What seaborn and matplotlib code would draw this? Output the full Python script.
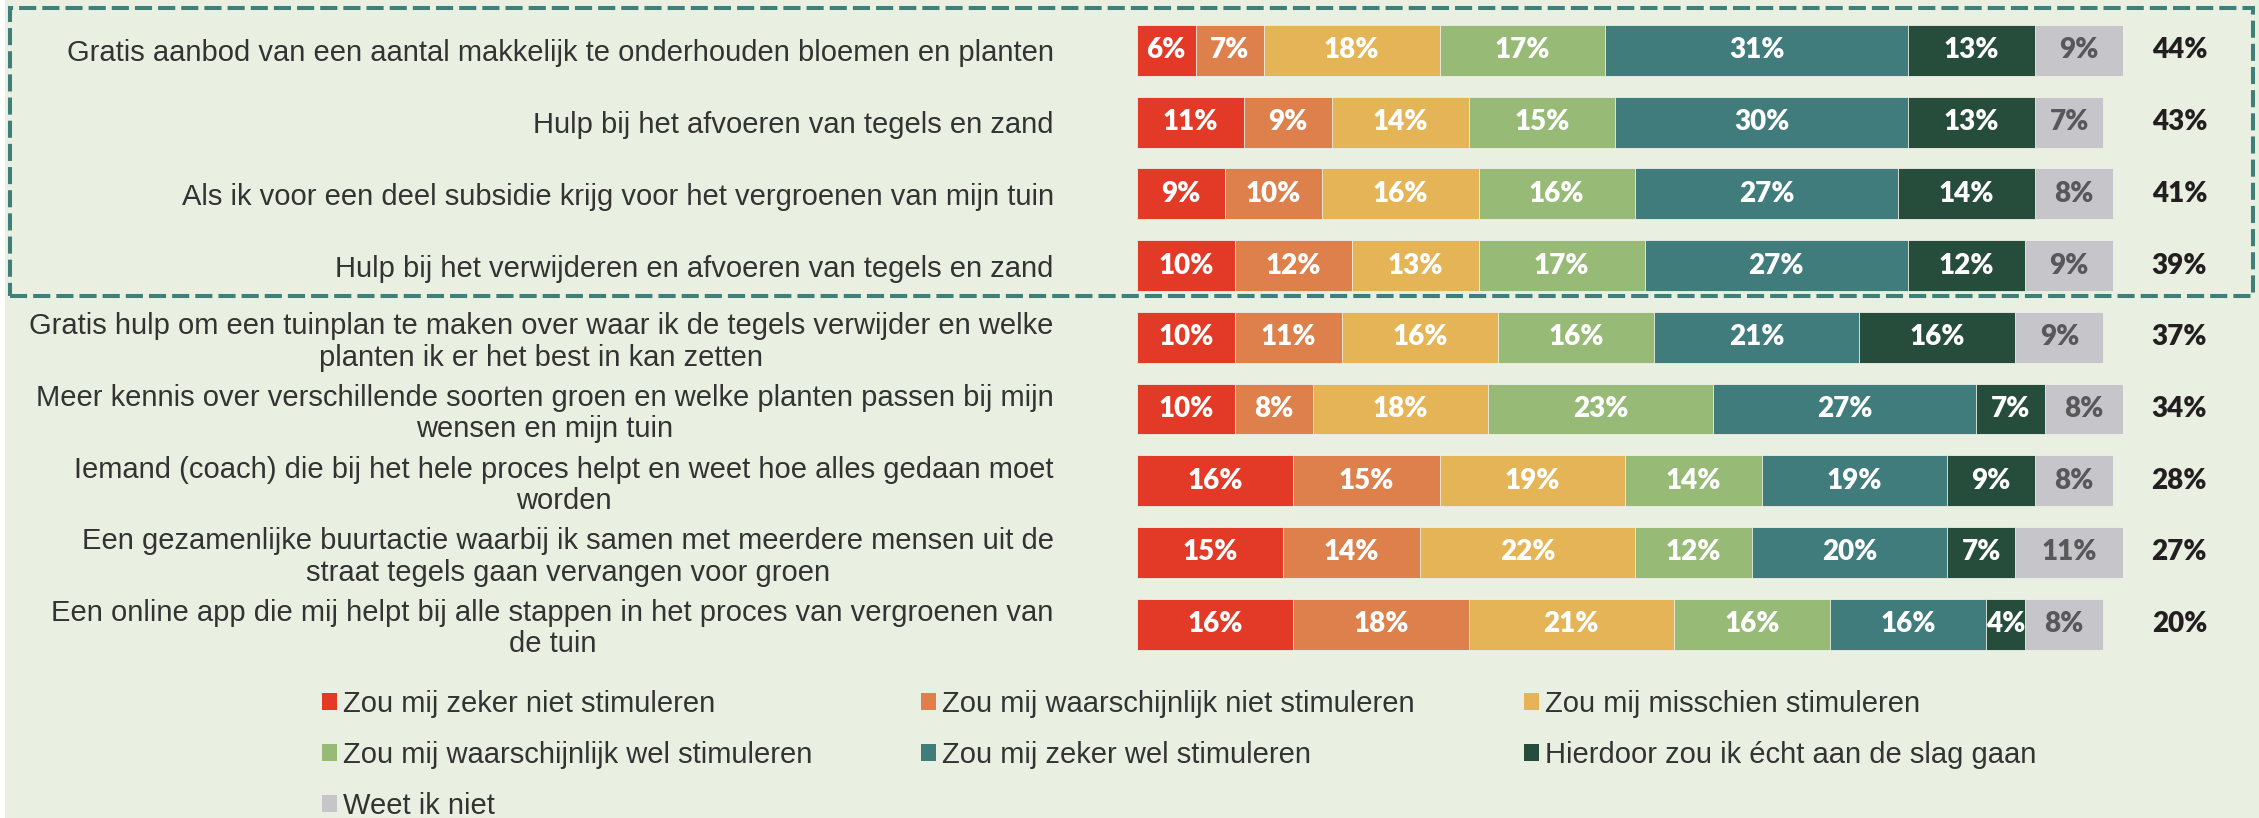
import numpy as np
import pandas as pd
import matplotlib
matplotlib.use("Agg")
import matplotlib.pyplot as plt
import seaborn as sns
from matplotlib.patches import Rectangle, Patch

# ---- data -------------------------------------------------------------
items = [
    "Gratis aanbod van een aantal makkelijk te onderhouden bloemen en planten",
    "Hulp bij het afvoeren van tegels en zand",
    "Als ik voor een deel subsidie krijg voor het vergroenen van mijn tuin",
    "Hulp bij het verwijderen en afvoeren van tegels en zand",
    "Gratis hulp om een tuinplan te maken over waar ik de tegels verwijder en welke\nplanten ik er het best in kan zetten",
    "Meer kennis over verschillende soorten groen en welke planten passen bij mijn\nwensen en mijn tuin",
    "Iemand (coach) die bij het hele proces helpt en weet hoe alles gedaan moet\nworden",
    "Een gezamenlijke buurtactie waarbij ik samen met meerdere mensen uit de\nstraat tegels gaan vervangen voor groen",
    "Een online app die mij helpt bij alle stappen in het proces van vergroenen van\nde tuin",
]

zeker_niet          = [6, 11, 9, 10, 10, 10, 16, 15, 16]
waarschijnlijk_niet = [7, 9, 10, 12, 11, 8, 15, 14, 18]
misschien           = [18, 14, 16, 13, 16, 18, 19, 22, 21]
waarschijnlijk_wel  = [17, 15, 16, 17, 16, 23, 14, 12, 16]
zeker_wel           = [31, 30, 27, 27, 21, 27, 19, 20, 16]
echt_aan_de_slag    = [13, 13, 14, 12, 16, 7, 9, 7, 4]
weet_niet           = [9, 7, 8, 9, 9, 8, 8, 11, 8]

categories = [
    "Zou mij zeker niet stimuleren",
    "Zou mij waarschijnlijk niet stimuleren",
    "Zou mij misschien stimuleren",
    "Zou mij waarschijnlijk wel stimuleren",
    "Zou mij zeker wel stimuleren",
    "Hierdoor zou ik écht aan de slag gaan",
    "Weet ik niet",
]

colors = ["#e33a27", "#dd804c", "#e5b457", "#97bb77", "#3f7c7b", "#264d3b", "#c6c5ca"]
label_colors = ["white"] * 6 + ["#58585a"]

series = [zeker_niet, waarschijnlijk_niet, misschien, waarschijnlijk_wel,
          zeker_wel, echt_aan_de_slag, weet_niet]
df = pd.DataFrame(dict(zip(categories, series)), index=items)
cum = df.cumsum(axis=1)
# share of respondents that would definitely get started (top two boxes)
totals = df[categories[4]] + df[categories[5]]

# ---- figure -------------------------------------------------------------
W, H = 2259, 818
BG = "#e9efe1"
TXT = "#333333"

sns.set_style("white")
plt.rcParams["font.family"] = ["Liberation Sans", "DejaVu Sans"]

fig = plt.figure(figsize=(W / 100, H / 100), dpi=100, facecolor=BG)

x0, px_per_pct = 1137, 9.76
row_top, row_bot = 14.6, 660.0
ax = fig.add_axes([x0 / W, 1 - row_bot / H, px_per_pct * 101 / W, (row_bot - row_top) / H])
ax.set_facecolor(BG)

# stacked bars: draw cumulative layers from the outermost inwards
for i in reversed(range(len(categories))):
    sns.barplot(x=cum[categories[i]].values, y=items, color=colors[i], orient="h",
                width=0.71, saturation=1, edgecolor="#eef0e6", linewidth=0.6, ax=ax)

ax.set_xlim(0, 101)
ax.set_ylim(len(items) - 0.5, -0.5)
ax.set_xlabel("")
ax.set_ylabel("")
ax.set_xticks([])
for s in ax.spines.values():
    s.set_visible(False)

ax.set_yticks(range(len(items)))
ax.set_yticklabels(items, fontsize=21, color=TXT)
ax.tick_params(axis="y", length=0, pad=60)
for lab in ax.get_yticklabels():
    lab.set_multialignment("center")
    lab.set_linespacing(1.15)

# segment value labels
VAL_FONT = ["Lato", "DejaVu Sans"]
for r in range(len(items)):
    for i, cat in enumerate(categories):
        v = df.iloc[r][cat]
        xc = cum.iloc[r][cat] - v / 2
        ax.text(xc, r, f"{v}%", ha="center", va="center", fontsize=20,
                fontweight="heavy", family=VAL_FONT, color=label_colors[i])
    ax.text(106.8, r, f"{totals.iloc[r]}%", ha="center", va="center", fontsize=20,
            fontweight="heavy", family=VAL_FONT, color="#231f20", clip_on=False)

# dashed frame around the four leading items
fig.add_artist(Rectangle((10 / W, 1 - 296 / H), (2253 - 10) / W, (296 - 8) / H,
                         transform=fig.transFigure, fill=False, edgecolor="#3f7f7a",
                         linewidth=2.9, linestyle=(0, (4.25, 1.5))))

# thin white strip on the left edge
fig.add_artist(Rectangle((0, 0), 5 / W, 1, transform=fig.transFigure,
                         facecolor="white", edgecolor="none"))

# legend, filled row by row in three columns
handles = [Patch(facecolor=c, edgecolor="none", label=l) for c, l in zip(colors, categories)]
order = [0, 3, 6, 1, 4, 2, 5]
fig.legend(handles=[handles[k] for k in order], loc="upper left",
           bbox_to_anchor=(322 / W, 1 - 690 / H), ncol=3, frameon=False,
           fontsize=21, handlelength=0.51, handleheight=0.51, handletextpad=0.2,
           columnspacing=3.75, labelspacing=0.78, borderpad=0, borderaxespad=0,
           labelcolor=TXT)

fig.savefig("out.png", dpi=100, facecolor=BG)
